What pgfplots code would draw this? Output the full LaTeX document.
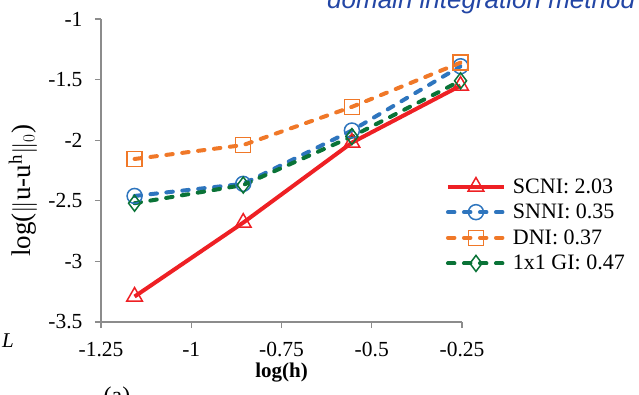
\documentclass[border=0pt]{standalone}
\usepackage{fontspec}
\setmainfont{Liberation Serif}
\newfontfamily\arialfont{Liberation Sans}
\usepackage{pgfplots}
\pgfplotsset{compat=1.18}
\definecolor{cred}{RGB}{238,32,36}
\definecolor{cblue}{RGB}{46,117,190}
\definecolor{corange}{RGB}{240,120,40}
\definecolor{cgreen}{RGB}{10,115,55}
\definecolor{axgray}{RGB}{140,140,140}
\definecolor{ttlblue}{RGB}{35,70,165}
\begin{document}
\begin{tikzpicture}[x=1pt,y=1pt]
\path[use as bounding box] (0,0) rectangle (639,394);
\clip (0,0) rectangle (639,394);
\begin{axis}[
  at={(101pt,72pt)}, anchor=south west,
  scale only axis, width=361pt, height=303pt,
  xmin=-1.25, xmax=-0.25, ymin=-3.5, ymax=-1,
  xtick={-1.25,-1,-0.75,-0.5,-0.25},
  xticklabels={-1.25,-1,-0.75,-0.5,-0.25},
  ytick={-3.5,-3,-2.5,-2,-1.5,-1},
  yticklabels={-3.5,-3,-2.5,-2,-1.5,-1},
  axis x line*=bottom, axis y line*=left,
  axis line style={draw=axgray, line width=1.2pt, -},
  tick style={draw=axgray, line width=1.2pt},
  tick align=outside, major tick length=6pt,
  ticklabel style={font=\fontsize{21.5}{25}\selectfont},
  xticklabel style={yshift=-11pt},
  yticklabel style={xshift=-9pt},
  xlabel={\textbf{log(h)}},
  xlabel style={font=\fontsize{21}{24}\selectfont, at={(axis description cs:0.5,-0.166)}, anchor=center},
  ylabel={log($\|$u-u$^{\mathrm{h}}\|_0$)},
  ylabel style={font=\fontsize{27}{31}\selectfont, at={(axis description cs:-0.216,0.433)}, anchor=center},
  legend style={at={(rel axis cs:0.955,0.481)}, anchor=north west, draw=none, fill=none,
    font=\fontsize{22}{26}\selectfont, row sep=5.5pt, inner sep=0pt, /tikz/column sep=5pt},
  legend cell align=left,
  legend image code/.code={\draw[mark repeat=2,mark phase=2,#1] plot coordinates {(0pt,0pt) (28pt,0pt) (56pt,0pt)};},
]
\addplot[cred, line width=4pt, mark=triangle, mark size=9pt, mark options={solid, line width=1.5pt, fill=none}]
  coordinates {(-1.157,-3.29) (-0.856,-2.68) (-0.555,-2.02) (-0.254,-1.55)};
\addlegendentry{SCNI: 2.03}
\addplot[cblue, line width=4pt, line cap=round, dash pattern=on 6.5pt off 9.5pt, mark=o, mark size=7.5pt, mark options={solid, line width=1.5pt, fill=none}]
  coordinates {(-1.157,-2.46) (-0.856,-2.36) (-0.555,-1.92) (-0.254,-1.39)};
\addlegendentry{SNNI: 0.35}
\addplot[corange, line width=4pt, line cap=round, dash pattern=on 6.5pt off 9.5pt, mark=square, mark size=7.5pt, mark options={solid, line width=1.5pt, fill=none}]
  coordinates {(-1.157,-2.155) (-0.856,-2.04) (-0.555,-1.725) (-0.254,-1.36)};
\addlegendentry{DNI: 0.37}
\addplot[cgreen, line width=4pt, line cap=round, dash pattern=on 6.5pt off 9.5pt, mark=diamond, mark size=8pt, mark options={solid, line width=1.5pt, fill=none}]
  coordinates {(-1.157,-2.52) (-0.856,-2.37) (-0.555,-1.97) (-0.254,-1.51)};
\addlegendentry{1x1 GI: 0.47}
\end{axis}
\node[anchor=base west, text=ttlblue, font=\arialfont\itshape\fontsize{26}{30}\selectfont, inner sep=0pt] at (327,385) {domain integration method};
\node[anchor=center, font=\itshape\fontsize{21}{25}\selectfont, inner sep=0pt] at (8,53) {L};
\node[anchor=center, font=\fontsize{24}{28}\selectfont, inner sep=0pt] at (117,-4) {(a)};
\end{tikzpicture}
\end{document}
